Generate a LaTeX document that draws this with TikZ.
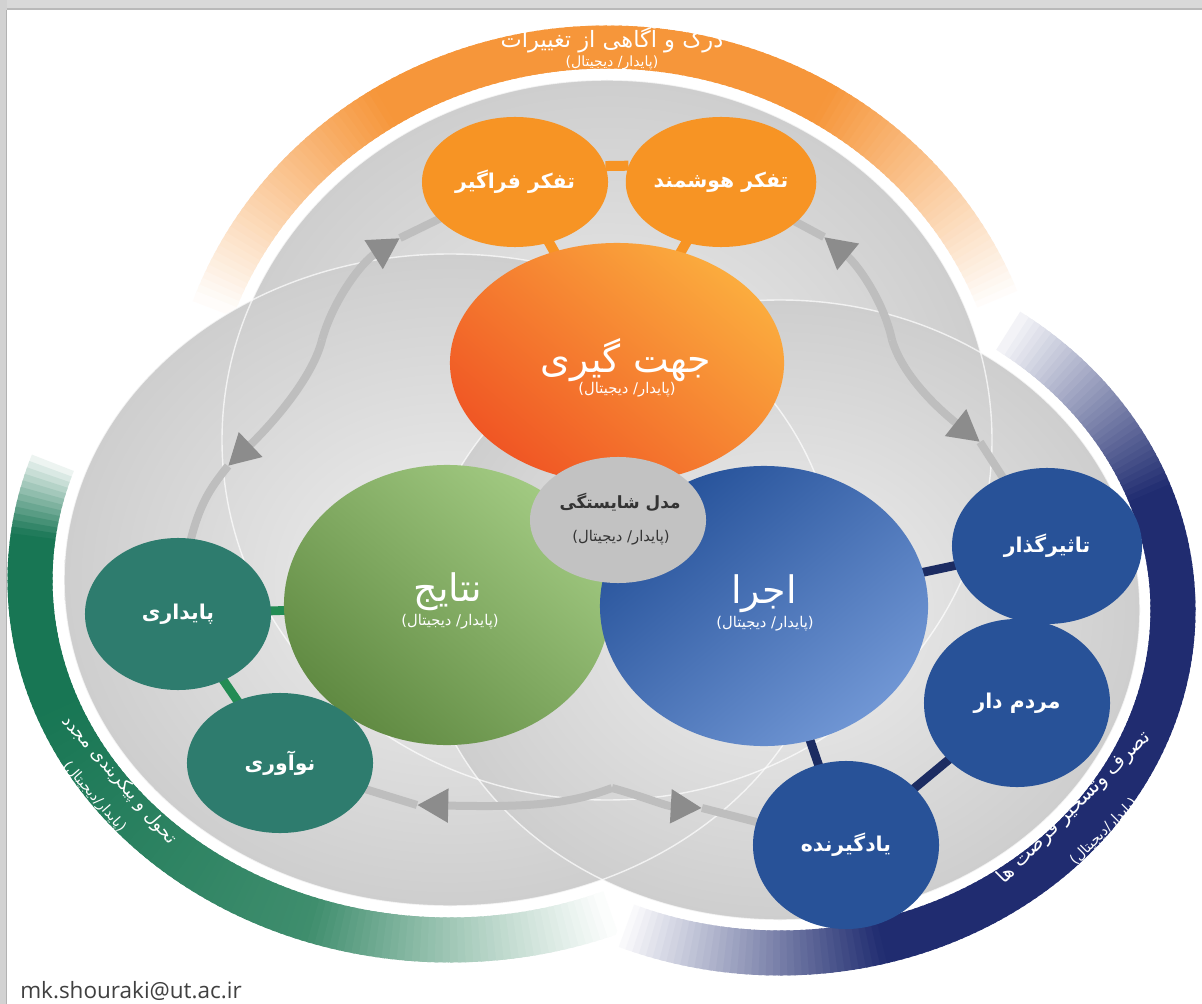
\documentclass[tikz,border=0pt]{standalone}
\usepackage{fontspec}
\TeXXeTstate=1
\newfontfamily\fa[Script=Arabic]{DejaVu Sans}
\newfontfamily\latinfont{Open Sans}
\usetikzlibrary{shapes.geometric,arrows.meta}

\definecolor{ringorange}{RGB}{246,150,58}
\definecolor{ringgreen}{RGB}{24,118,84}
\definecolor{ringgreenlt}{RGB}{110,170,140}
\definecolor{ringblue}{RGB}{32,44,112}
\definecolor{discout}{RGB}{206,206,206}
\definecolor{discin}{RGB}{240,240,240}
\definecolor{cyclegray}{RGB}{190,190,190}
\definecolor{tipgray}{RGB}{140,140,140}
\definecolor{smallorange}{RGB}{247,148,36}
\definecolor{bigorangelt}{RGB}{251,172,62}
\definecolor{bigorangedk}{RGB}{240,86,36}
\definecolor{centergray}{RGB}{194,194,194}
\definecolor{greenlt}{RGB}{162,202,130}
\definecolor{greendk}{RGB}{96,138,66}
\definecolor{bluelt}{RGB}{112,150,212}
\definecolor{bluedk}{RGB}{38,82,154}
\definecolor{tealnode}{RGB}{46,124,110}
\definecolor{bluenode}{RGB}{40,82,152}
\definecolor{greenlink}{RGB}{34,140,84}
\definecolor{bluelink}{RGB}{28,44,98}
\definecolor{orangelink}{RGB}{247,148,36}

\pgfdeclarelayer{front}
\pgfsetlayers{main,front}

\tikzset{
  disc/.style={inner color=discin, outer color=discout},
  cyc/.style={draw=cyclegray, line width=0.2cm},
  cyctip/.style={cyc, -{Triangle[length=0.78cm,width=0.8cm,color=tipgray]}},
  smallnode/.style={ellipse, inner sep=0pt, text=white,
      font=\fa\bfseries\fontsize{14.5}{17}\selectfont},
  bignode/.style={ellipse, inner sep=0pt},
  orangesmall/.style={smallnode, fill=smallorange},
  tealsmall/.style={smallnode, fill=tealnode},
  bluesmall/.style={smallnode, fill=bluenode},
  bigtitle/.style={text=white, inner sep=0pt, font=\fa\fontsize{27}{30}\selectfont},
  bigsub/.style={text=white, inner sep=0pt, font=\fa\fontsize{10.5}{12}\selectfont},
  olink/.style={draw=orangelink, line width=0.25cm},
  glink/.style={draw=greenlink, line width=0.22cm},
  blink/.style={draw=bluelink, line width=0.22cm},
  ringtext/.style={text=white, inner sep=0pt},
}

\begin{document}
\begin{tikzpicture}[x=0.025cm,y=-0.025cm]
\useasboundingbox (0,0) rectangle (1202,1004);
\fill[white] (0,0) rectangle (1202,1004);

% window frame
\fill[gray!30] (0,0) rectangle (1202,10);
\fill[gray!55] (0,8.5) rectangle (1202,10.5);
\fill[gray!35] (0,0) rectangle (7,1004);
\fill[gray!60] (5.5,10) rectangle (7,1004);

% outer rings, fading out at their ends
\foreach \a in {20,...,159}{
  \pgfmathsetmacro\p{max(0,min(100,(\a-20)*2.6,(160-\a)*2.6))}
  \draw[ringorange!\p!white, line width=1.075cm]
    ({607+418*cos(\a)},{440-393*sin(\a)})
    arc[start angle=-\a, end angle={-\a-1.5}, x radius=418, y radius=393];
}
\foreach \a in {160,...,291}{
  \pgfmathsetmacro\p{max(0,min(100,(\a-160)*8,(292-\a)*2.4))}
  \pgfmathsetmacro\q{max(0,min(100,100-(\a-200)*0.9))}
  \draw[ringgreen!\q!ringgreenlt!\p!white, line width=1.125cm]
    ({450+420*cos(\a)},{580-360*sin(\a)})
    arc[start angle=-\a, end angle={-\a-1.5}, x radius=420, y radius=360];
}
\foreach \a in {-114,...,53}{
  \pgfmathsetmacro\p{max(0,min(100,(\a+114)*2.6,(55-\a)*2.8))}
  \draw[ringblue!\p!white, line width=1.125cm]
    ({780+393*cos(\a)},{610-343*sin(\a)})
    arc[start angle=-\a, end angle={-\a-1.5}, x radius=393, y radius=343];
}

% three grey discs
\shade[disc] (607,440) ellipse[x radius=385, y radius=360];
\shade[disc] (450,580) ellipse[x radius=386, y radius=326];
\shade[disc] (780,610) ellipse[x radius=360, y radius=310];
\draw[white, line width=1pt, opacity=.7] (607,440) ellipse[x radius=385, y radius=360];
\draw[white, line width=1pt, opacity=.7] (450,580) ellipse[x radius=386, y radius=326];
\draw[white, line width=1pt, opacity=.7] (780,610) ellipse[x radius=360, y radius=310];

% ring captions
\node[ringtext, font=\fa\fontsize{16}{18}\selectfont] (capTop) at (612,40) {\beginR درک و آگاهی از تغییرات\endR};
\node[ringtext, font=\fa\fontsize{10}{12}\selectfont] (subTop) at (612,63) {\beginR(پایدار/ دیجیتال)\endR};
\node[ringtext, rotate=-49, font=\fa\fontsize{12.5}{15}\selectfont] (capLeft) at (119,780) {\beginR تحول و پیکربندی مجدد\endR};
\node[ringtext, rotate=-49, font=\fa\fontsize{10}{12}\selectfont] (subLeft) at (94,797) {\beginR(پایدار/دیجیتال)\endR};
\node[ringtext, rotate=45, font=\fa\fontsize{14}{16}\selectfont] (capRight) at (1074,808) {\beginR تصرف وتسخیر فرصت ها\endR};
\node[ringtext, rotate=45, font=\fa\fontsize{10}{12}\selectfont] (subRight) at (1104,832) {\beginR(پایدار/دیجیتال)\endR};

% nodes
\begin{pgfonlayer}{front}
\node[bignode, minimum width=8.35cm, minimum height=6cm,
      top color=bigorangelt, bottom color=bigorangedk, shading angle=-40] (O) at (617,363) {};
\node[bigtitle] (Otitle) at (626,360) {\beginR جهت گیری\endR};
\node[bigsub] (Osub) at (627,390) {\beginR(پایدار/ دیجیتال)\endR};
\node[bignode, minimum width=8.15cm, minimum height=7cm,
      top color=greenlt, bottom color=greendk, shading angle=-40] (N) at (447,605) {};
\node[bigtitle] (Ntitle) at (448,592) {\beginR نتایج\endR};
\node[bigsub] (Nsub) at (450,622) {\beginR(پایدار/ دیجیتال)\endR};
\node[bignode, minimum width=8.2cm, minimum height=7cm,
      top color=bluedk, bottom color=bluelt, shading angle=40] (E) at (764,606) {};
\node[bigtitle] (Etitle) at (764,594) {\beginR اجرا\endR};
\node[bigsub] (Esub) at (765,624) {\beginR(پایدار/ دیجیتال)\endR};
\node[ellipse, fill=centergray, minimum width=4.4cm, minimum height=3.15cm, inner sep=0pt] (M) at (618,520) {};
\node[text=black!80, inner sep=0pt, font=\fa\bfseries\fontsize{12}{14}\selectfont] (Mtitle) at (620,502) {\beginR مدل شایستگی\endR};
\node[text=black!80, inner sep=0pt, font=\fa\fontsize{10.5}{12}\selectfont] (Msub) at (621,538) {\beginR(پایدار/ دیجیتال)\endR};
\node[orangesmall, minimum width=4.65cm, minimum height=3.25cm] (F1) at (515,182) {\beginR تفکر فراگیر\endR};
\node[orangesmall, minimum width=4.7cm, minimum height=3.25cm] (F2) at (721,182) {\beginR تفکر هوشمند\endR};
\node[tealsmall, minimum width=4.65cm, minimum height=3.8cm] (P1) at (178,614) {\beginR پایداری\endR};
\node[tealsmall, minimum width=4.65cm, minimum height=3.5cm] (P2) at (280,763) {\beginR نوآوری\endR};
\node[bluesmall, minimum width=4.75cm, minimum height=3.9cm] (B1) at (1047,546) {\beginR تاثیرگذار\endR};
\node[bluesmall, minimum width=4.65cm, minimum height=4.2cm] (B2) at (1017,703) {\beginR مردم دار\endR};
\node[bluesmall, minimum width=4.65cm, minimum height=4.2cm] (B3) at (846,845) {\beginR یادگیرنده\endR};
\end{pgfonlayer}

% links between nodes (under the node layer)
\draw[olink] (F1.10) -- (F2.170);
\draw[olink] (F1.center) -- (O.center);
\draw[olink] (F2.center) -- (O.center);
\draw[glink] (P1.center) -- (N.center);
\draw[glink] (P2.center) -- (N.center);
\draw[glink] (P1.center) -- (P2.center);
\draw[blink] (E.center) -- (B1.center);
\draw[blink] (B1.center) -- (B2.center);
\draw[blink] (B2.center) -- (B3.center);
\draw[blink] (E.center) -- (B3.center);

% grey cycle: three bent arcs, each sending two arrows outwards
\coordinate (K1) at (322,340);
\coordinate (K2) at (892,340);
\coordinate (K3) at (612,788);
\coordinate (tL1) at (400,238);
\coordinate (tL2) at (228,466);
\coordinate (tR1) at (824,237);
\coordinate (tR2) at (980,442);
\coordinate (tB1) at (417,805);
\coordinate (tB2) at (702,808);
\draw[cyctip] (K1) .. controls (333,300) and (362,262) .. (tL1);
\draw[cyc] (tL1) -- (F1.center);
\draw[cyctip] (K1) .. controls (312,380) and (268,428) .. (tL2);
\draw[cyc] (tL2) .. controls (205,495) and (190,515) .. (P1.center);
\draw[cyctip] (K2) .. controls (884,302) and (858,265) .. (tR1);
\draw[cyc] (tR1) -- (F2.center);
\draw[cyctip] (K2) .. controls (904,380) and (946,415) .. (tR2);
\draw[cyc] (tR2) -- (B1.center);
\draw[cyctip] (K3) .. controls (565,806) and (520,807) .. (tB1);
\draw[cyc] (tB1) -- (P2.center);
\draw[cyctip] (K3) .. controls (645,797) and (665,806) .. (tB2);
\draw[cyc] (tB2) -- (B3.center);

% contact line
\node[anchor=base west, inner sep=0pt, text=black!75, font=\latinfont\fontsize{16}{18}\selectfont] (mail) at (20,998) {mk.shouraki@ut.ac.ir};
\end{tikzpicture}
\end{document}
